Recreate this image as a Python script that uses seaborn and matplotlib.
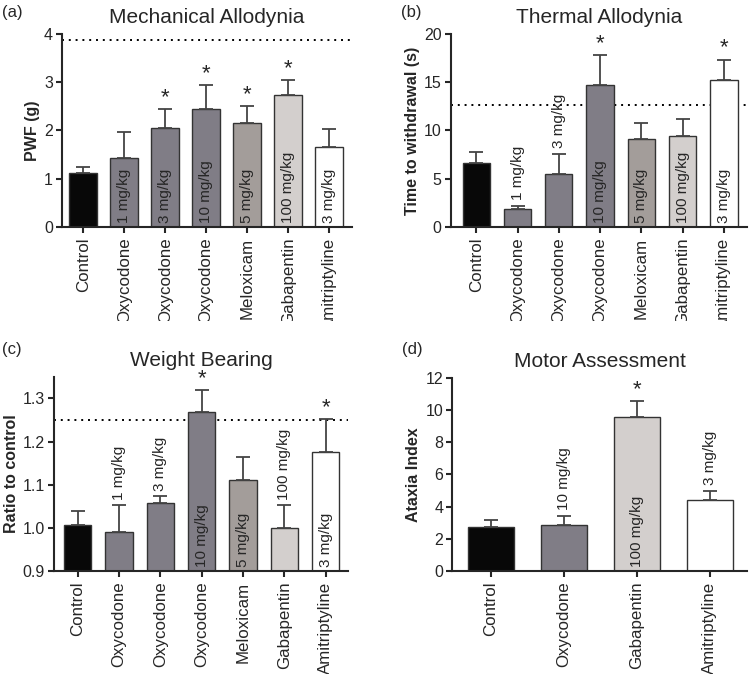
import pandas as pd
import seaborn as sns
import matplotlib.pyplot as plt
from matplotlib.ticker import FormatStrFormatter
from matplotlib.transforms import Bbox, TransformedBbox

# Data
drugs = ['Control', 'Oxycodone', 'Oxycodone', 'Oxycodone', 'Meloxicam', 'Gabapentin', 'Amitriptyline']
doses = ['', '1 mg/kg', '3 mg/kg', '10 mg/kg', '5 mg/kg', '100 mg/kg', '3 mg/kg']
colors = ['#080808', '#807b88', '#807b88', '#807b88', '#a49d99', '#d4cfcc', '#ffffff']

mech_mean = [1.12, 1.43, 2.06, 2.45, 2.15, 2.73, 1.66]
mech_err = [0.13, 0.54, 0.39, 0.49, 0.36, 0.31, 0.37]
mech_sig = [0, 0, 1, 1, 1, 1, 0]
mech_above = [0, 0, 0, 0, 0, 0, 0]
mech_ref = 3.87

therm_mean = [6.65, 1.9, 5.5, 14.7, 9.15, 9.45, 15.25]
therm_err = [1.1, 0.25, 2.1, 3.1, 1.65, 1.75, 2.1]
therm_sig = [0, 0, 0, 1, 0, 0, 1]
therm_above = [0, 1, 1, 0, 0, 0, 0]
therm_ref = 12.65

wb_mean = [1.007, 0.99, 1.057, 1.268, 1.112, 1.0, 1.176]
wb_err = [0.031, 0.062, 0.016, 0.052, 0.053, 0.052, 0.076]
wb_sig = [0, 0, 0, 1, 0, 0, 1]
wb_above = [0, 1, 1, 0, 0, 1, 0]
wb_ref = 1.25

motor_drugs = ['Control', 'Oxycodone', 'Gabapentin', 'Amitriptyline']
motor_doses = ['', '10 mg/kg', '100 mg/kg', '3 mg/kg']
motor_colors = ['#080808', '#807b88', '#d4cfcc', '#ffffff']
motor_mean = [2.75, 2.87, 9.58, 4.42]
motor_err = [0.45, 0.55, 0.97, 0.58]
motor_sig = [0, 0, 1, 0]
motor_above = [0, 1, 0, 1]

sns.set_style('ticks')
plt.rcParams['font.family'] = ['Liberation Sans', 'DejaVu Sans']
plt.rcParams['axes.linewidth'] = 1.5

fig = plt.figure(figsize=(7.5, 6.74), dpi=100)


def panel(rect, letter, letter_xy, title, ylabel, names, dose, cols, mean, err, sig, above,
          ylim, yticks, xlim, width, ref=None, fmt=None, clip_top=False):
    ax = fig.add_axes(rect)
    df = pd.DataFrame({'key': [f'{n}_{i}' for i, n in enumerate(names)], 'value': mean})
    sns.barplot(data=df, x='key', y='value', hue='key', palette=cols, legend=False,
                width=width, edgecolor='#333333', linewidth=1.0, errorbar=None, ax=ax)
    x = range(len(mean))
    ax.errorbar(x, mean, yerr=[[0] * len(err), err], fmt='none', ecolor='#444444',
                elinewidth=1.3, capsize=5, capthick=1.3, zorder=1)
    ax.set_ylim(*ylim)
    ax.set_xlim(*xlim)
    ax.set_yticks(yticks)
    if fmt:
        ax.yaxis.set_major_formatter(FormatStrFormatter(fmt))
    ax.set_xticks(list(x))
    ax.set_xticklabels(names, rotation=90, fontsize=12.2)
    ax.tick_params(axis='y', labelsize=11.5, width=1.5, length=4.5, pad=2)
    ax.tick_params(axis='x', width=1.5, length=4.5, pad=3)
    ax.set_xlabel('')
    ax.set_ylabel(ylabel, fontsize=11.5, fontweight='bold', labelpad=3)
    sns.despine(ax=ax)
    span = ylim[1] - ylim[0]
    for i in x:
        top = mean[i] + err[i]
        if dose[i]:
            if above[i]:
                ax.text(i, top + 0.03 * span, dose[i], rotation=90, ha='center', va='bottom', fontsize=11)
            else:
                ax.text(i, ylim[0] + 0.02 * span, dose[i], rotation=90, ha='center', va='bottom', fontsize=11)
        if sig[i]:
            ax.text(i, top + 0.005 * span, '*', ha='center', va='bottom', fontsize=16)
    if ref is not None:
        ax.axhline(ref, color='black', linestyle=(0, (1, 2.5)), linewidth=1.4, zorder=0)
    ax.set_title(title, fontsize=15, pad=8)
    fig.text(letter_xy[0], letter_xy[1], letter, fontsize=12, va='center', ha='left')
    if clip_top:
        # the top row labels are cut off where the lower panels begin
        box = TransformedBbox(Bbox([[0, 1 - 321 / 674], [1, 1]]), fig.transFigure)
        for lab in ax.get_xticklabels():
            lab.set_clip_box(box)
            lab.set_clip_on(True)
    return ax


panel([0.0827, 0.6632, 0.3867, 0.2864], '(a)', (0.003, 0.982), 'Mechanical Allodynia', 'PWF (g)',
      drugs, doses, colors, mech_mean, mech_err, mech_sig, mech_above,
      (0, 4), [0, 1, 2, 3, 4], (-0.52, 6.56), 0.68, ref=mech_ref, clip_top=True)

panel([0.601, 0.6632, 0.395, 0.2864], '(b)', (0.535, 0.982), 'Thermal Allodynia', 'Time to withdrawal (s)',
      drugs, doses, colors, therm_mean, therm_err, therm_sig, therm_above,
      (0, 20), [0, 5, 10, 15, 20], (-0.62, 6.56), 0.66, ref=therm_ref, clip_top=True)

panel([0.072, 0.1528, 0.392, 0.288], '(c)', (0.003, 0.482), 'Weight Bearing', 'Ratio to control',
      drugs, doses, colors, wb_mean, wb_err, wb_sig, wb_above,
      (0.9, 1.35), [0.9, 1.0, 1.1, 1.2, 1.3], (-0.57, 6.54), 0.66, ref=wb_ref, fmt='%.1f')

panel([0.603, 0.1528, 0.393, 0.2864], '(d)', (0.536, 0.482), 'Motor Assessment', 'Ataxia Index',
      motor_drugs, motor_doses, motor_colors, motor_mean, motor_err, motor_sig, motor_above,
      (0, 12), [0, 2, 4, 6, 8, 10, 12], (-0.53, 3.51), 0.63)

plt.savefig('out.png', dpi=100)
